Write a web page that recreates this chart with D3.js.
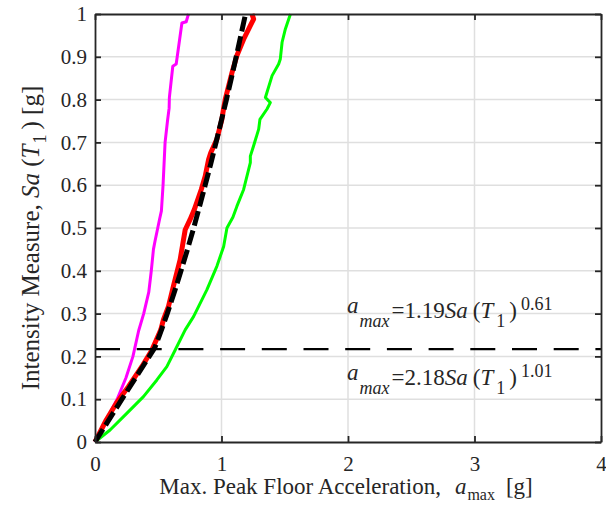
<!DOCTYPE html>
<html>
<head>
<meta charset="utf-8">
<script src="https://cdn.jsdelivr.net/npm/d3@7"></script>
<style>
  html, body { margin: 0; padding: 0; background: #fff; }
  svg { display: block; }
  text { font-family: "Liberation Serif", "Times New Roman", serif; fill: #262626; }
</style>
</head>
<body>
<svg id="chart" width="606" height="506"></svg>
<script>
// ---------- data ----------
const xTicks = [0, 1, 2, 3, 4];
const xTickLabels = ["0", "1", "2", "3", "4"];
const yTicks = [0, 0.1, 0.2, 0.3, 0.4, 0.5, 0.6, 0.7, 0.8, 0.9, 1];
const yTickLabels = ["0", "0.1", "0.2", "0.3", "0.4", "0.5", "0.6", "0.7", "0.8", "0.9", "1"];

// magenta curve (Sa, amax)
const magentaSa = [0, 0.05, 0.10, 0.15, 0.20, 0.26, 0.30, 0.35, 0.40, 0.45, 0.47, 0.52, 0.54, 0.60, 0.70, 0.75, 0.78, 0.805, 0.878, 0.883, 0.979, 0.982, 1.0];
const magentaA  = [0, 0.085, 0.175, 0.245, 0.300, 0.345, 0.385, 0.425, 0.445, 0.462, 0.475, 0.510, 0.525, 0.538, 0.554, 0.573, 0.586, 0.588, 0.615, 0.642, 0.687, 0.721, 0.739];

// red curve
const redSa = [0, 0.052, 0.091, 0.13, 0.176, 0.215, 0.262, 0.286, 0.317, 0.364, 0.426, 0.496, 0.52, 0.543, 0.59, 0.621, 0.66, 0.676, 0.707, 0.754, 0.778, 0.801, 0.863, 0.903, 0.941, 0.973, 0.988, 1.0];
const redA  = [0, 0.09, 0.17, 0.265, 0.37, 0.45, 0.52, 0.541, 0.581, 0.62, 0.673, 0.713, 0.752, 0.785, 0.84, 0.871, 0.898, 0.915, 0.963, 1.003, 1.016, 1.03, 1.083, 1.122, 1.175, 1.228, 1.254, 1.241];

// green curve
const greenSa = [0, 0.028, 0.067, 0.106, 0.145, 0.176, 0.215, 0.262, 0.293, 0.356, 0.411, 0.457, 0.50, 0.525, 0.551, 0.59, 0.653, 0.668, 0.692, 0.731, 0.754, 0.778, 0.793, 0.805, 0.856, 0.883, 0.895, 0.934, 0.965, 1.0];
const greenA  = [0, 0.119, 0.251, 0.383, 0.489, 0.568, 0.634, 0.713, 0.779, 0.885, 0.964, 1.017, 1.043, 1.09, 1.122, 1.175, 1.228, 1.228, 1.254, 1.294, 1.304, 1.36, 1.386, 1.347, 1.40, 1.452, 1.465, 1.479, 1.505, 1.545];

// black dashed fitted curve (values read along the fit)
const fitSa = [0, 0.05, 0.10, 0.15, 0.20, 0.22, 0.25, 0.30, 0.35, 0.40, 0.45, 0.50, 0.55, 0.60, 0.65, 0.70, 0.75, 0.80, 0.85, 0.90, 0.95, 1.00];
const fitA  = [0, 0.106, 0.213, 0.321, 0.429, 0.472, 0.511, 0.571, 0.627, 0.680, 0.731, 0.780, 0.826, 0.871, 0.915, 0.957, 0.998, 1.039, 1.078, 1.116, 1.153, 1.190];

// horizontal threshold line
const thresholdSa = [0.217];

// annotations
const annot1 = { coef: "=1.19", exp: "0.61" };
const annot2 = { coef: "=2.18", exp: "1.01" };

// ---------- layout ----------
const svg = d3.select("#chart");
const pLeft = 95, pRight = 601, pTop = 14, pBottom = 442;
const x = d3.scaleLinear().domain([0, 4]).range([pLeft, pRight]);
const y = d3.scaleLinear().domain([0, 1]).range([pBottom, pTop]);
const axisColor = "#262626";
const serif = '"Liberation Serif", "Times New Roman", serif';

// grid
const grid = svg.append("g");
grid.selectAll("line.v").data(xTicks.slice(1, -1)).join("line")
  .attr("x1", d => x(d)).attr("x2", d => x(d))
  .attr("y1", pTop).attr("y2", pBottom)
  .attr("stroke", "#dfdfdf").attr("stroke-width", 1.5);
grid.selectAll("line.h").data(yTicks.slice(1, -1)).join("line")
  .attr("x1", pLeft).attr("x2", pRight)
  .attr("y1", d => y(d)).attr("y2", d => y(d))
  .attr("stroke", "#dfdfdf").attr("stroke-width", 1.5);

// curves
const line = d3.line().x(d => x(d[1])).y(d => y(d[0])).curve(d3.curveLinear);
function series(saArr, aArr) { return saArr.map((s, i) => [s, aArr[i]]); }

svg.append("path").datum(series(greenSa, greenA))
  .attr("d", line).attr("fill", "none").attr("stroke", "#00ff00")
  .attr("stroke-width", 3).attr("stroke-linejoin", "round");
svg.append("path").datum(series(magentaSa, magentaA))
  .attr("d", line).attr("fill", "none").attr("stroke", "#ff00ff")
  .attr("stroke-width", 3).attr("stroke-linejoin", "round");
svg.append("path").datum(series(redSa, redA))
  .attr("d", line).attr("fill", "none").attr("stroke", "#ff0000")
  .attr("stroke-width", 5).attr("stroke-linejoin", "round");
svg.append("path").datum(series(fitSa, fitA))
  .attr("d", line).attr("fill", "none").attr("stroke", "#000")
  .attr("stroke-width", 5).attr("stroke-dasharray", "15,5");

// threshold dashed line
svg.selectAll("line.thr").data(thresholdSa).join("line")
  .attr("x1", pLeft).attr("x2", pRight)
  .attr("y1", d => y(d)).attr("y2", d => y(d))
  .attr("stroke", "#000").attr("stroke-width", 2.2)
  .attr("stroke-dasharray", "25,16.7");

// axes
const tickFont = 21;
const xAxis = d3.axisBottom(x).tickValues(xTicks).tickFormat((d, i) => xTickLabels[i])
  .tickSize(-6).tickSizeOuter(0).tickPadding(14);
const yAxis = d3.axisLeft(y).tickValues(yTicks).tickFormat((d, i) => yTickLabels[i])
  .tickSize(-6).tickSizeOuter(0).tickPadding(8);
const xAxisTop = d3.axisTop(x).tickValues(xTicks).tickFormat("").tickSize(-6).tickSizeOuter(0);
const yAxisRight = d3.axisRight(y).tickValues(yTicks).tickFormat("").tickSize(-6).tickSizeOuter(0);

function styleAxis(g) {
  g.attr("font-family", serif).attr("font-size", tickFont);
  g.selectAll("path.domain").attr("stroke", axisColor).attr("stroke-width", 1.8);
  g.selectAll(".tick line").attr("stroke", axisColor).attr("stroke-width", 1.8);
  g.selectAll(".tick text").attr("fill", axisColor)
    .attr("font-family", serif).attr("font-size", tickFont)
    .style("font-family", serif).style("font-size", tickFont + "px");
}
svg.append("g").attr("transform", `translate(0,${pBottom})`).call(xAxis).call(styleAxis);
svg.append("g").attr("transform", `translate(${pLeft},0)`).call(yAxis).call(styleAxis);
svg.append("g").attr("transform", `translate(0,${pTop})`).call(xAxisTop).call(styleAxis);
svg.append("g").attr("transform", `translate(${pRight},0)`).call(yAxisRight).call(styleAxis);

// x label
const xl = svg.append("text").attr("x", 346).attr("y", 494)
  .attr("text-anchor", "middle").style("font-size", "23px");
xl.append("tspan").text("Max. Peak Floor Acceleration,");
xl.append("tspan").attr("dx", 14).style("font-style", "italic").text("a");
xl.append("tspan").attr("dx", 1).attr("dy", 6).style("font-size", "16px").text("max");
xl.append("tspan").attr("dx", 11).attr("dy", -6).text("[g]");

// y label
const yl = svg.append("text").attr("transform", "translate(39,238) rotate(-90)")
  .attr("text-anchor", "middle").style("font-size", "25px");
yl.append("tspan").text("Intensity Measure, ");
yl.append("tspan").style("font-style", "italic").text("Sa");
yl.append("tspan").text(" (");
yl.append("tspan").style("font-style", "italic").text("T");
yl.append("tspan").attr("dy", 7).attr("dx", 1).style("font-size", "18px").text("1");
yl.append("tspan").attr("dy", -7).attr("dx", 5).text(") [g]");

// annotations
function annotation(baseY, a) {
  const t = svg.append("text").attr("x", 347).attr("y", baseY).style("font-size", "23px");
  t.append("tspan").attr("dy", -5).style("font-style", "italic").text("a");
  t.append("tspan").attr("dy", 14).attr("dx", 1).style("font-style", "italic").style("font-size", "18px").text("max");
  t.append("tspan").attr("dy", -9).attr("dx", 2).text(a.coef);
  t.append("tspan").style("font-style", "italic").text("Sa");
  t.append("tspan").attr("dx", 5).text("(");
  t.append("tspan").style("font-style", "italic").text("T");
  t.append("tspan").attr("dy", 9).attr("dx", 3).style("font-size", "18px").text("1");
  t.append("tspan").attr("dy", -9).attr("dx", 4).text(")");
  t.append("tspan").attr("dy", -8).attr("dx", 4).style("font-size", "18px").text(a.exp);
}
annotation(318, annot1);
annotation(385, annot2);
</script>
</body>
</html>
